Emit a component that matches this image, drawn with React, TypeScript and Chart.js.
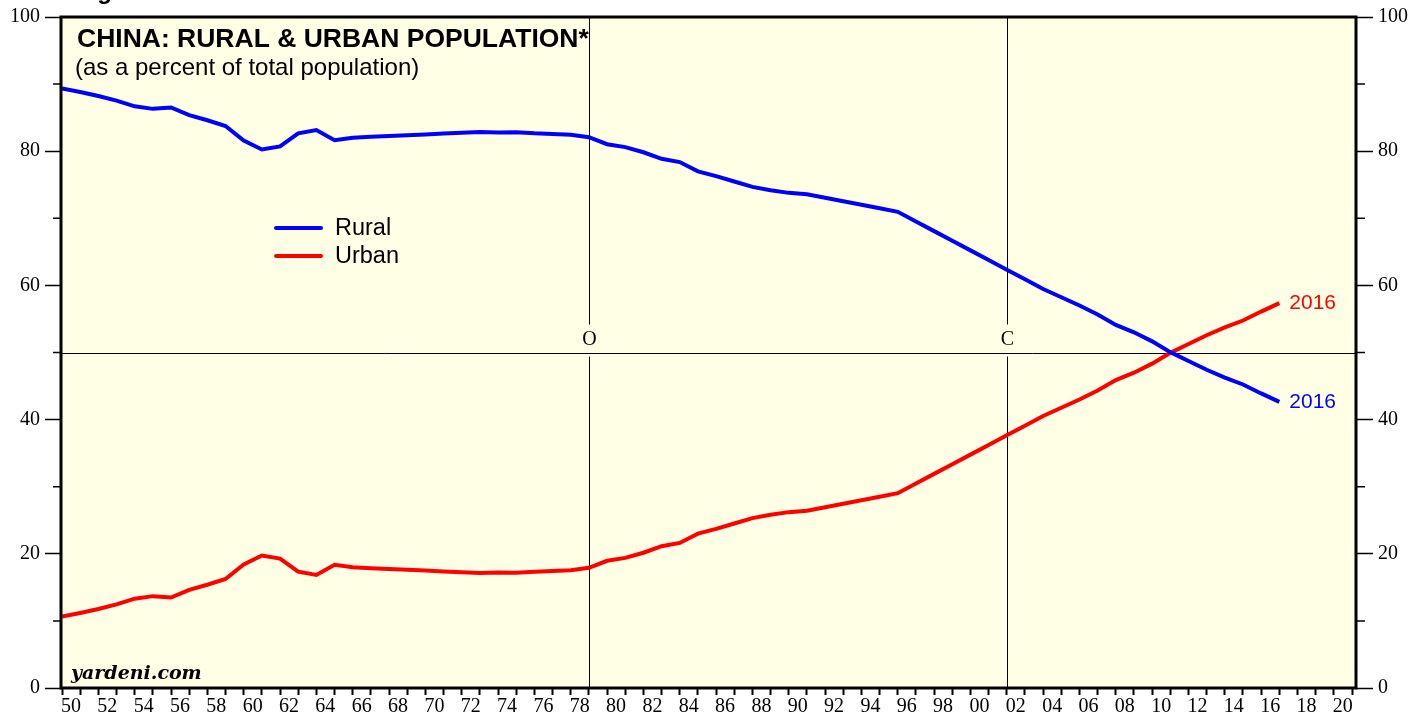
import React, { useEffect, useRef } from 'react';
import { Chart, registerables } from 'chart.js';

Chart.register(...registerables);

// Annual data, 1949-2016 (percent of total population)
const years = [
  1949, 1950, 1951, 1952, 1953, 1954, 1955, 1956, 1957, 1958, 1959,
  1960, 1961, 1962, 1963, 1964, 1965, 1966, 1967, 1968, 1969,
  1970, 1971, 1972, 1973, 1974, 1975, 1976, 1977, 1978, 1979,
  1980, 1981, 1982, 1983, 1984, 1985, 1986, 1987, 1988, 1989,
  1990, 1991, 1992, 1993, 1994, 1995, 1996, 1997, 1998, 1999,
  2000, 2001, 2002, 2003, 2004, 2005, 2006, 2007, 2008, 2009,
  2010, 2011, 2012, 2013, 2014, 2015, 2016,
];

const rural = [
  89.36, 88.82, 88.22, 87.54, 86.69, 86.31, 86.52, 85.38, 84.61, 83.75, 81.59,
  80.25, 80.71, 82.67, 83.16, 81.63, 82.02, 82.14, 82.26, 82.38, 82.5,
  82.62, 82.74, 82.87, 82.8, 82.84, 82.66, 82.56, 82.45, 82.08, 81.04,
  80.61, 79.84, 78.87, 78.38, 76.99, 76.29, 75.48, 74.68, 74.19, 73.79,
  73.59, 73.06, 72.54, 72.01, 71.49, 70.96, 69.52, 68.09, 66.65, 65.22,
  63.78, 62.34, 60.91, 59.47, 58.24, 57.01, 55.66, 54.11, 53.01, 51.66,
  50.05, 48.73, 47.43, 46.27, 45.23, 43.9, 42.65,
];

const urban = [
  10.64, 11.18, 11.78, 12.46, 13.31, 13.69, 13.48, 14.62, 15.39, 16.25, 18.41,
  19.75, 19.29, 17.33, 16.84, 18.37, 17.98, 17.86, 17.74, 17.62, 17.5,
  17.38, 17.26, 17.13, 17.2, 17.16, 17.34, 17.44, 17.55, 17.92, 18.96,
  19.39, 20.16, 21.13, 21.62, 23.01, 23.71, 24.52, 25.32, 25.81, 26.21,
  26.41, 26.94, 27.46, 27.99, 28.51, 29.04, 30.48, 31.91, 33.35, 34.78,
  36.22, 37.66, 39.09, 40.53, 41.76, 42.99, 44.34, 45.89, 46.99, 48.34,
  49.95, 51.27, 52.57, 53.73, 54.77, 56.1, 57.35,
];

// Event markers (year of event; drawn at year end like the data)
const eventYears = [1978, 2001];
const eventLabels = ['O', 'C'];

// Axis ranges / tick labels
const xMin = 1950;
const xMax = 2021.22;
const xLabelYears = [
  1950, 1952, 1954, 1956, 1958, 1960, 1962, 1964, 1966, 1968, 1970, 1972,
  1974, 1976, 1978, 1980, 1982, 1984, 1986, 1988, 1990, 1992, 1994, 1996,
  1998, 2000, 2002, 2004, 2006, 2008, 2010, 2012, 2014, 2016, 2018, 2020,
];
const xLabelTexts = [
  '50', '52', '54', '56', '58', '60', '62', '64', '66', '68', '70', '72',
  '74', '76', '78', '80', '82', '84', '86', '88', '90', '92', '94', '96',
  '98', '00', '02', '04', '06', '08', '10', '12', '14', '16', '18', '20',
];
const yMajorTicks = [0, 20, 40, 60, 80, 100];
const yMinorTicks = [10, 30, 50, 70, 90];
const refLineValue = 50;

const SERIF = '"Liberation Serif", "DejaVu Serif", serif';
const SANS = '"Liberation Sans", Arial, sans-serif';
const BG = '#FFFFE6';

const decorPlugin = {
  id: 'decor',
  beforeDraw(chart: any) {
    const { ctx, chartArea: a } = chart;
    ctx.save();
    ctx.fillStyle = '#ffffff';
    ctx.fillRect(0, 0, chart.width, chart.height);
    ctx.fillStyle = BG;
    ctx.fillRect(a.left, a.top, a.right - a.left, a.bottom - a.top);
    ctx.restore();
  },
  beforeDatasetsDraw(chart: any) {
    const { ctx, chartArea: a, scales } = chart;
    const xs = scales.x;
    const ys = scales.y;
    ctx.save();
    ctx.strokeStyle = '#000';
    ctx.lineWidth = 1;
    const y50 = Math.round(ys.getPixelForValue(refLineValue)) + 0.5;
    ctx.beginPath();
    ctx.moveTo(a.left, y50);
    ctx.lineTo(a.right, y50);
    ctx.stroke();
    ctx.font = `20px ${SERIF}`;
    ctx.fillStyle = '#000';
    ctx.textAlign = 'center';
    ctx.textBaseline = 'middle';
    eventYears.forEach((yr, i) => {
      const px = Math.round(xs.getPixelForValue(yr + 1)) + 0.5;
      ctx.beginPath();
      ctx.moveTo(px, a.top);
      ctx.lineTo(px, y50 - 29);
      ctx.moveTo(px, y50 + 3);
      ctx.lineTo(px, a.bottom);
      ctx.stroke();
      ctx.fillText(eventLabels[i], px, y50 - 14);
    });
    ctx.restore();
  },
  afterDraw(chart: any) {
    const { ctx, chartArea: a, scales } = chart;
    const ys = scales.y;
    ctx.save();
    // minor y ticks on both sides
    ctx.strokeStyle = '#000';
    ctx.lineWidth = 1.5;
    yMinorTicks.forEach((v) => {
      const py = ys.getPixelForValue(v);
      ctx.beginPath();
      ctx.moveTo(a.left - 9, py);
      ctx.lineTo(a.left, py);
      ctx.moveTo(a.right, py);
      ctx.lineTo(a.right + 9, py);
      ctx.stroke();
    });
    // frame
    ctx.lineWidth = 3;
    ctx.strokeRect(a.left - 1, a.top, a.right - a.left + 1, a.bottom - a.top);

    // title
    ctx.fillStyle = '#000';
    ctx.textAlign = 'left';
    ctx.textBaseline = 'alphabetic';
    ctx.font = `bold 26.5px ${SANS}`;
    ctx.fillText('CHINA: RURAL & URBAN POPULATION*', a.left + 15, a.top + 30);
    ctx.font = `24px ${SANS}`;
    ctx.fillText('(as a percent of total population)', a.left + 13, a.top + 58);

    // legend
    const items = [
      { label: 'Rural', color: '#0000ff', y: 228 },
      { label: 'Urban', color: '#ff0000', y: 256 },
    ];
    items.forEach((it) => {
      ctx.strokeStyle = it.color;
      ctx.lineWidth = 4;
      ctx.lineCap = 'round';
      ctx.beginPath();
      ctx.moveTo(276, it.y);
      ctx.lineTo(321, it.y);
      ctx.stroke();
      ctx.fillStyle = '#000';
      ctx.font = `23.5px ${SANS}`;
      ctx.textBaseline = 'middle';
      ctx.fillText(it.label, 335, it.y + 1);
    });

    // end labels
    const xs = scales.x;
    const lastX = xs.getPixelForValue(years[years.length - 1] + 1);
    ctx.font = `21px ${SANS}`;
    ctx.textBaseline = 'middle';
    ctx.fillStyle = '#ff0000';
    ctx.fillText(String(years[years.length - 1]), lastX + 10, ys.getPixelForValue(urban[urban.length - 1]));
    ctx.fillStyle = '#0000ff';
    ctx.fillText(String(years[years.length - 1]), lastX + 10, ys.getPixelForValue(rural[rural.length - 1]));

    // watermark
    ctx.fillStyle = '#000';
    ctx.textBaseline = 'alphabetic';
    ctx.font = `italic bold 19px "DejaVu Serif", serif`;
    ctx.fillText('yardeni.com', a.left + 9, a.bottom - 9);

    // cut-off figure heading at the very top
    ctx.font = `bold 24px ${SANS}`;
    ctx.fillText('Figure 3.', a.left + 14, -1);
    ctx.restore();
  },
};

export default function App() {
  const ref = useRef<HTMLCanvasElement | null>(null);

  useEffect(() => {
    if (!ref.current) return;
    const yTickCfg = (position: 'left' | 'right', width: number) => ({
      type: 'linear' as const,
      position,
      min: 0,
      max: 100,
      border: { display: false },
      grid: {
        drawOnChartArea: false,
        drawTicks: true,
        tickLength: 17,
        tickWidth: 1.5,
        tickColor: (c: any) => (yMajorTicks.includes(c.tick?.value) ? '#000' : 'rgba(0,0,0,0)'),
      },
      ticks: {
        stepSize: 10,
        padding: 5,
        color: '#000',
        font: { family: SERIF, size: 20 },
        callback: (v: any) => (yMajorTicks.includes(v) ? String(v) : ''),
      },
      afterFit: (s: any) => {
        s.width = width;
      },
    });

    const chart = new Chart(ref.current, {
      type: 'line',
      data: {
        datasets: [
          {
            label: 'Rural',
            data: rural.map((v, i) => ({ x: years[i] + 1, y: v })),
            borderColor: '#0000ff',
            borderWidth: 4,
            pointRadius: 0,
            tension: 0,
            yAxisID: 'y',
          },
          {
            label: 'Urban',
            data: urban.map((v, i) => ({ x: years[i] + 1, y: v })),
            borderColor: '#ff0000',
            borderWidth: 4,
            pointRadius: 0,
            tension: 0,
            yAxisID: 'y',
          },
        ],
      },
      options: {
        animation: false,
        responsive: false,
        maintainAspectRatio: false,
        layout: { padding: { top: 16, left: 0, right: 0, bottom: 0 } },
        plugins: { legend: { display: false }, tooltip: { enabled: false }, title: { display: false } },
        scales: {
          x: {
            type: 'linear',
            position: 'bottom',
            min: xMin,
            max: xMax,
            border: { display: false },
            grid: {
              drawOnChartArea: false,
              drawTicks: true,
              tickLength: 7,
              tickWidth: 2,
              tickColor: '#000',
            },
            ticks: {
              stepSize: 1,
              includeBounds: false,
              autoSkip: false,
              maxRotation: 0,
              minRotation: 0,
              labelOffset: 9,
              padding: 0,
              color: '#000',
              font: { family: SERIF, size: 20 },
              callback: (v: any) => {
                const idx = xLabelYears.indexOf(Number(v));
                return idx >= 0 ? xLabelTexts[idx] : '';
              },
            },
            afterFit: (s: any) => {
              s.height = 31;
            },
          },
          y: yTickCfg('left', 62),
          y2: yTickCfg('right', 71),
        },
      },
      plugins: [decorPlugin],
    });
    return () => chart.destroy();
  }, []);

  return (
    <div style={{ position: 'fixed', left: 0, top: 0, width: 1427, height: 719, background: '#fff' }}>
      <canvas ref={ref} width={1427} height={719} style={{ display: 'block', width: 1427, height: 719 }} />
    </div>
  );
}
